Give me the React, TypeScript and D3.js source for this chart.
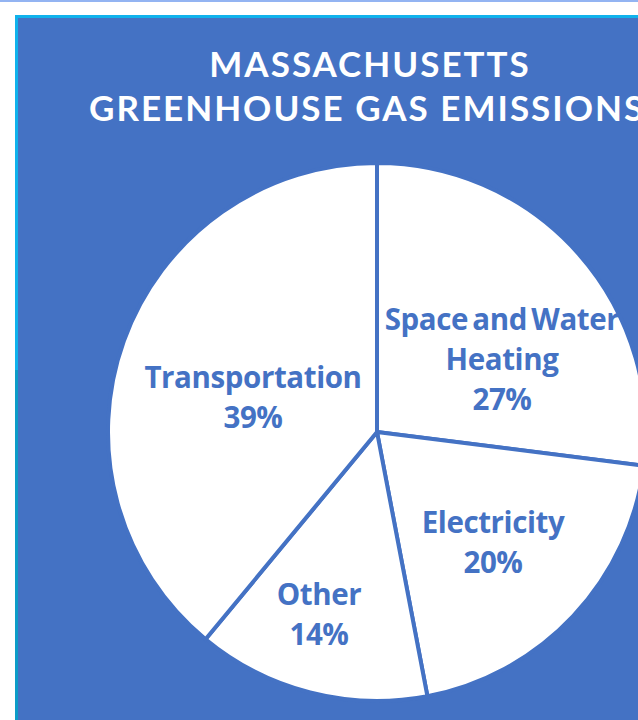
import React, { useEffect, useRef } from 'react';
import * as d3 from 'd3';

const categories = ['Space and Water Heating', 'Electricity', 'Other', 'Transportation'];
const shares = [27, 20, 14, 39];
const labelLines = [
  ['Space and Water', 'Heating', '27%'],
  ['Electricity', '20%'],
  ['Other', '14%'],
  ['Transportation', '39%'],
];
const titleLines = ['MASSACHUSETTS', 'GREENHOUSE GAS EMISSIONS'];

const BLUE = '#4472C4';

const App = () => {
  const chartRef = useRef<SVGSVGElement>(null);

  useEffect(() => {
    const width = 638;
    const height = 720;
    const cx = 377;
    const cy = 432;
    const radius = 269;

    const svg = d3.select(chartRef.current).attr('width', width).attr('height', height);
    svg.selectAll('*').remove();

    // page frame: top rule, white gap, cyan border, blue panel
    svg.append('rect').attr('width', width).attr('height', height).attr('fill', '#fff');
    svg.append('rect').attr('width', width).attr('height', 2).attr('fill', '#93b4f2');
    svg.append('rect').attr('x', 15).attr('y', 15).attr('width', width - 15).attr('height', height - 15).attr('fill', '#10b2ec');
    svg.append('rect').attr('x', 15).attr('y', 370).attr('width', 3).attr('height', height - 370).attr('fill', '#0c9cc8');
    svg.append('rect').attr('x', 18).attr('y', 18).attr('width', width - 18).attr('height', height - 18).attr('fill', BLUE);

    const titleFont = 'Lato, "Open Sans", sans-serif';
    const labelFont = '"Open Sans", Lato, sans-serif';

    svg
      .append('g')
      .selectAll('text')
      .data(titleLines)
      .enter()
      .append('text')
      .attr('x', (d, i) => (i === 0 ? 370 : 89))
      .attr('y', (d, i) => 77 + i * 44)
      .attr('text-anchor', (d, i) => (i === 0 ? 'middle' : 'start'))
      .attr('fill', '#fff')
      .attr('font-family', titleFont)
      .attr('font-weight', 700)
      .attr('font-size', 35)
      .attr('letter-spacing', 2)
      .text(d => d);

    const pie = d3.pie<number>().value(d => d).sort(null);
    const arc = d3.arc<d3.PieArcDatum<number>>().innerRadius(0).outerRadius(radius);
    const arcs = pie(shares);

    const g = svg.append('g').attr('transform', `translate(${cx},${cy})`);

    g.selectAll('path')
      .data(arcs)
      .enter()
      .append('path')
      .attr('d', arc)
      .attr('fill', '#fff')
      .attr('stroke', BLUE)
      .attr('stroke-width', 4)
      .attr('stroke-linejoin', 'round');

    // label anchors (centre of first line) relative to pie centre
    const labelPos: [number, number][] = [
      [125, -102],
      [116, 101],
      [-58, 173],
      [-124, -44],
    ];

    const labels = g
      .selectAll('g.label')
      .data(arcs)
      .enter()
      .append('text')
      .attr('text-anchor', 'middle')
      .attr('fill', BLUE)
      .attr('font-family', labelFont)
      .attr('font-weight', 700)
      .attr('font-size', 29.5)
      .attr('letter-spacing', -0.4)
      .attr('word-spacing', -3);

    labels
      .selectAll('tspan')
      .data((d, i) => labelLines[i].map(t => ({ t, i })))
      .enter()
      .append('tspan')
      .attr('x', d => labelPos[d.i][0])
      .attr('y', (d, j) => labelPos[d.i][1] + j * 40)
      .text(d => d.t);
  }, []);

  return (
    <svg
      ref={chartRef}
      style={{ position: 'absolute', top: 0, left: 0, display: 'block' }}
      aria-label={categories.join(', ')}
    ></svg>
  );
};

export default App;
